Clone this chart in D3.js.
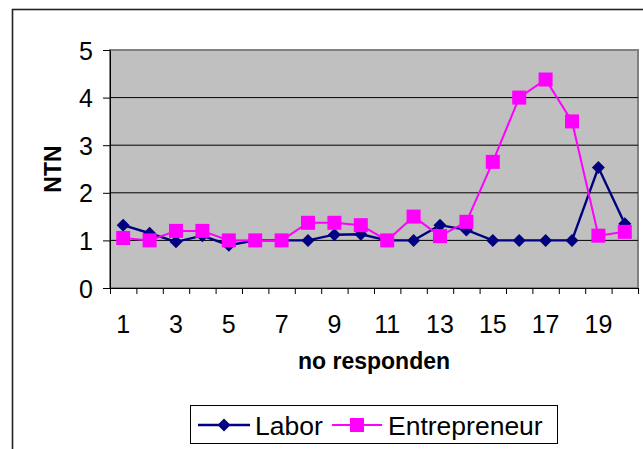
<!DOCTYPE html>
<html>
<head>
<meta charset="utf-8">
<script src="https://cdn.jsdelivr.net/npm/d3@7"></script>
<style>
  body { margin: 0; background: #fff; }
  svg { display: block; font-family: "Liberation Sans", Arial, sans-serif; }
</style>
</head>
<body>
<div class="chart"></div>
<script>
const categories = d3.range(1, 21);
const labor = [1.32, 1.15, 0.97, 1.1, 0.9, 1.0, 1.0, 1.0, 1.12, 1.13, 1.0, 1.0, 1.32, 1.22, 1.0, 1.0, 1.0, 1.0, 2.53, 1.35];
const entrepreneur = [1.05, 1.0, 1.2, 1.2, 1.0, 1.0, 1.0, 1.37, 1.37, 1.32, 1.0, 1.5, 1.09, 1.39, 2.65, 4.0, 4.38, 3.5, 1.1, 1.18];
const yTicks = [0, 1, 2, 3, 4, 5];
const xLabels = categories.filter(d => d % 2 === 1);

const width = 643, height = 449;
const plot = {left: 110, right: 638, top: 50, bottom: 288};

const svg = d3.select('.chart')
  .append('svg')
  .attr('width', width)
  .attr('height', height);

// outer chart border (runs off the right and bottom edge)
svg.append('rect')
  .attr('x', 12.5).attr('y', 9.5)
  .attr('width', 700).attr('height', 500)
  .attr('fill', 'none')
  .attr('stroke', '#222')
  .attr('stroke-width', 1.6);

let x = d3.scaleBand()
  .domain(categories)
  .range([plot.left, plot.right]);

let xEdges = d3.scaleLinear()
  .domain([0, categories.length])
  .range([plot.left, plot.right]);

let y = d3.scaleLinear()
  .domain([0, 5])
  .range([plot.bottom, plot.top]);

// plot area
svg.append('rect')
  .attr('x', plot.left).attr('y', plot.top)
  .attr('width', plot.right - plot.left)
  .attr('height', plot.bottom - plot.top)
  .attr('fill', '#c0c0c0')
  .attr('stroke', '#808080')
  .attr('stroke-width', 2);

// gridlines
svg.append('g')
  .selectAll('line')
  .data(yTicks.slice(1, -1))
  .enter()
  .append('line')
  .attr('x1', plot.left).attr('x2', plot.right)
  .attr('y1', d => y(d)).attr('y2', d => y(d))
  .attr('stroke', '#000')
  .attr('stroke-width', 1);

// y axis
let yAxis = svg.append('g')
  .attr('transform', `translate(${plot.left}, 0)`)
  .call(d3.axisLeft(y).tickValues(yTicks).tickFormat(d3.format('d')).tickSize(7).tickPadding(10).tickSizeOuter(0));
yAxis.selectAll('text').attr('font-size', 25).attr('fill', '#000').attr('font-family', null).attr('dy', '0.36em');
yAxis.selectAll('line, path').attr('stroke', '#000');

// x axis tick marks on category edges
let xTickAxis = svg.append('g')
  .attr('transform', `translate(0, ${plot.bottom})`)
  .call(d3.axisBottom(xEdges).ticks(20).tickSize(6).tickSizeOuter(0).tickFormat(''));
xTickAxis.selectAll('line, path').attr('stroke', '#000');

// x labels, every other category
let xLabelAxis = svg.append('g')
  .attr('transform', `translate(0, ${plot.bottom})`)
  .call(d3.axisBottom(x).tickValues(xLabels).tickSize(0).tickPadding(27));
xLabelAxis.select('.domain').remove();
xLabelAxis.selectAll('text').attr('font-size', 25).attr('fill', '#000').attr('font-family', null);

// axis titles
svg.append('text')
  .attr('x', (plot.left + plot.right) / 2)
  .attr('y', 369)
  .attr('text-anchor', 'middle')
  .attr('font-size', 23)
  .attr('font-weight', 'bold')
  .text('no responden');

svg.append('text')
  .attr('transform', `translate(61, ${(plot.top + plot.bottom) / 2}) rotate(-90)`)
  .attr('text-anchor', 'middle')
  .attr('font-size', 23)
  .attr('font-weight', 'bold')
  .text('NTN');

const cx = (d, i) => x(categories[i]) + x.bandwidth() / 2;

function diamond(s) {
  return `M0,${-s}L${s},0L0,${s}L${-s},0Z`;
}

// Labor series
let line = d3.line()
  .x(cx)
  .y(d => y(d));

svg.append('path')
  .attr('d', line(labor))
  .attr('fill', 'none')
  .attr('stroke', '#000080')
  .attr('stroke-width', 2.4);

svg.append('g')
  .selectAll('path')
  .data(labor)
  .enter()
  .append('path')
  .attr('d', diamond(6.5))
  .attr('transform', (d, i) => `translate(${cx(d, i)}, ${y(d)})`)
  .attr('fill', '#000080');

// Entrepreneur series
svg.append('path')
  .attr('d', line(entrepreneur))
  .attr('fill', 'none')
  .attr('stroke', '#ff00ff')
  .attr('stroke-width', 2);

svg.append('g')
  .selectAll('rect')
  .data(entrepreneur)
  .enter()
  .append('rect')
  .attr('x', (d, i) => cx(d, i) - 7)
  .attr('y', d => y(d) - 7)
  .attr('width', 14)
  .attr('height', 14)
  .attr('fill', '#ff00ff');

// legend
let legend = svg.append('g');
legend.append('rect')
  .attr('x', 190.5).attr('y', 405.5)
  .attr('width', 367).attr('height', 38)
  .attr('fill', '#fff')
  .attr('stroke', '#000')
  .attr('stroke-width', 1);

legend.append('line')
  .attr('x1', 198).attr('x2', 250).attr('y1', 425).attr('y2', 425)
  .attr('stroke', '#000080').attr('stroke-width', 2.4);
legend.append('path')
  .attr('d', diamond(6.5))
  .attr('transform', 'translate(224, 425)')
  .attr('fill', '#000080');
legend.append('text')
  .attr('x', 255).attr('y', 435)
  .attr('font-size', 26.5)
  .text('Labor');

legend.append('line')
  .attr('x1', 332).attr('x2', 382).attr('y1', 425).attr('y2', 425)
  .attr('stroke', '#ff00ff').attr('stroke-width', 2);
legend.append('rect')
  .attr('x', 350).attr('y', 418)
  .attr('width', 14).attr('height', 14)
  .attr('fill', '#ff00ff');
legend.append('text')
  .attr('x', 388).attr('y', 435)
  .attr('font-size', 26.5)
  .text('Entrepreneur');
</script>
</body>
</html>
